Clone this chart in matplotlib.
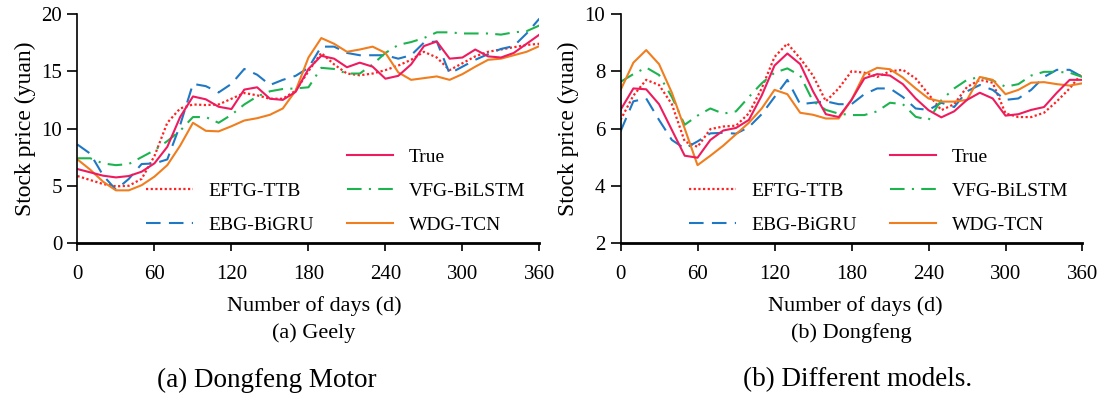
import numpy as np
import matplotlib
matplotlib.use('Agg')
import matplotlib.pyplot as plt
from matplotlib.lines import Line2D

plt.rcParams['font.family'] = ['Liberation Serif', 'DejaVu Serif']

# sampling days (every 10 days)
days = list(range(0, 361, 10))

# (a) Geely
geely_true = [6.46, 6.17, 5.88, 5.73, 5.85, 6.23, 6.96, 8.4, 11.0, 12.8, 12.55, 11.9, 11.7, 13.4, 13.6,
              12.6, 12.5, 13.2, 15.2, 16.35, 16.1, 15.35, 15.75, 15.4, 14.35, 14.6, 15.6, 17.2, 17.6,
              16.1, 16.2, 16.9, 16.3, 16.2, 16.6, 17.4, 18.2]
geely_eftg = [5.85, 5.5, 5.15, 4.95, 5.0, 5.6, 7.6, 10.5, 11.75, 12.1, 12.05, 12.1, 12.6, 13.1, 12.9,
              12.6, 12.6, 13.3, 15.0, 16.6, 15.6, 14.8, 14.65, 14.8, 15.1, 15.5, 16.0, 16.7, 16.2,
              15.1, 15.7, 16.3, 16.7, 16.9, 17.1, 17.3, 17.4]
geely_vfg = [7.4, 7.4, 6.95, 6.8, 6.9, 7.5, 8.1, 8.9, 9.8, 11.0, 11.0, 10.5, 11.2, 12.1, 12.8,
             13.25, 13.45, 13.5, 13.6, 15.3, 15.2, 14.8, 14.8, 15.6, 16.6, 17.3, 17.55, 17.9, 18.4,
             18.4, 18.3, 18.3, 18.3, 18.2, 18.4, 18.5, 19.0]
geely_ebg = [8.6, 7.8, 5.9, 4.65, 5.6, 6.9, 6.95, 7.3, 10.3, 13.9, 13.7, 13.15, 13.9, 15.2, 14.7,
             13.8, 14.25, 14.6, 15.3, 17.15, 17.15, 16.6, 16.4, 16.4, 16.4, 16.1, 16.4, 17.5, 17.6,
             14.8, 15.4, 16.0, 16.5, 16.95, 17.2, 18.3, 19.6]
geely_wdg = [7.3, 6.4, 5.35, 4.6, 4.6, 5.05, 5.8, 6.8, 8.5, 10.5, 9.8, 9.75, 10.2, 10.7, 10.9,
             11.2, 11.75, 13.3, 16.2, 17.9, 17.4, 16.7, 16.9, 17.15, 16.6, 14.9, 14.25, 14.4, 14.55,
             14.25, 14.75, 15.4, 16.0, 16.1, 16.4, 16.7, 17.2]

# (b) Dongfeng
dongfeng_true = [6.65, 7.4, 7.37, 6.85, 5.95, 5.05, 4.98, 5.6, 5.93, 6.02, 6.3, 7.15, 8.2, 8.62, 8.25,
                 7.3, 6.5, 6.4, 7.0, 7.75, 7.9, 7.85, 7.55, 7.05, 6.64, 6.39, 6.6, 7.0, 7.25,
                 7.05, 6.45, 6.5, 6.65, 6.75, 7.25, 7.7, 7.7]
dongfeng_eftg = [6.3, 7.15, 7.7, 7.52, 6.85, 5.55, 5.36, 5.98, 6.07, 6.1, 6.53, 7.4, 8.5, 8.97, 8.45,
                 7.85, 6.95, 7.4, 8.0, 7.95, 7.8, 8.0, 8.05, 7.75, 7.2, 6.64, 6.85, 7.45, 7.7,
                 7.6, 6.53, 6.4, 6.4, 6.55, 6.95, 7.4, 7.95]
dongfeng_vfg = [7.63, 7.9, 8.13, 7.87, 7.1, 6.13, 6.45, 6.7, 6.52, 6.6, 7.1, 7.58, 7.95, 8.1, 7.85,
                6.95, 6.65, 6.52, 6.47, 6.47, 6.6, 6.9, 6.85, 6.41, 6.3, 6.99, 7.4, 7.7, 7.8,
                7.68, 7.46, 7.55, 7.85, 7.98, 7.98, 7.95, 7.8]
dongfeng_ebg = [5.9, 6.95, 7.05, 6.3, 5.6, 5.3, 5.55, 5.83, 5.85, 5.82, 6.05, 6.5, 7.1, 7.7, 6.85,
                6.9, 6.95, 6.85, 6.85, 7.2, 7.4, 7.4, 7.1, 6.7, 6.65, 6.9, 6.75, 7.3, 7.52,
                7.35, 7.0, 7.05, 7.35, 7.8, 8.05, 8.05, 7.8]
dongfeng_wdg = [7.34, 8.3, 8.74, 8.25, 7.25, 6.0, 4.72, 5.05, 5.4, 5.8, 6.2, 6.7, 7.35, 7.2, 6.55,
                6.48, 6.35, 6.35, 7.0, 7.9, 8.12, 8.07, 7.78, 7.4, 7.05, 6.94, 6.94, 7.0, 7.8,
                7.7, 7.2, 7.35, 7.6, 7.62, 7.55, 7.5, 7.58]

labels = ['True', 'EFTG-TTB', 'VFG-BiLSTM', 'EBG-BiGRU', 'WDG-TCN']
xticks = [0, 60, 120, 180, 240, 300, 360]

# styles
st_true = dict(color='#EE1B5E', lw=1.5, ls='-')
st_eftg = dict(color='#FF2222', lw=1.6, ls=(0, (1.0, 1.1)))
st_vfg = dict(color='#1DB450', lw=1.5, ls=(0, (7, 3.5, 1, 3.5)))
st_ebg = dict(color='#1F78C4', lw=1.5, ls=(0, (7, 4)))
st_wdg = dict(color='#F07D1E', lw=1.5, ls='-')


def draw_panel(ax, series, ylim, yticks):
    t, e, v, b, w = series
    h_e, = ax.plot(days, e, **st_eftg)
    h_b, = ax.plot(days, b, **st_ebg)
    h_v, = ax.plot(days, v, **st_vfg)
    h_w, = ax.plot(days, w, **st_wdg)
    h_t, = ax.plot(days, t, **st_true)
    ax.set_xlim(0, 360)
    ax.set_ylim(*ylim)
    ax.set_xticks(xticks)
    ax.set_yticks(yticks)
    ax.spines['top'].set_visible(False)
    ax.spines['right'].set_visible(False)
    ax.spines['bottom'].set_linewidth(2.0)
    ax.spines['left'].set_linewidth(1.2)
    ax.tick_params(axis='x', direction='out', length=5.5, width=1.2, pad=10, labelsize=15)
    ax.tick_params(axis='y', direction='out', length=7, width=1.2, pad=4, labelsize=15)
    ax.set_ylabel('Stock price (yuan)', fontsize=17, labelpad=4)
    blank = Line2D([], [], linestyle='none')
    ax.legend([blank, h_e, h_b, h_t, h_v, h_w],
              [' ', 'EFTG-TTB', 'EBG-BiGRU', 'True', 'VFG-BiLSTM', 'WDG-TCN'],
              ncol=2, loc='upper left', bbox_to_anchor=(0.148, 0.415),
              frameon=False, fontsize=14, handlelength=2.4, handletextpad=0.8,
              columnspacing=1.7, labelspacing=0.86, borderpad=0, borderaxespad=0)


fig = plt.figure(figsize=(11.02, 3.98), dpi=100)
ax1 = fig.add_axes([0.0703, 0.3894, 0.4192, 0.5754])
ax2 = fig.add_axes([0.5631, 0.3894, 0.4192, 0.5754])

draw_panel(ax1, [geely_true, geely_eftg, geely_vfg, geely_ebg, geely_wdg], (0, 20), [0, 5, 10, 15, 20])
draw_panel(ax2, [dongfeng_true, dongfeng_eftg, dongfeng_vfg, dongfeng_ebg, dongfeng_wdg], (2, 10), [2, 4, 6, 8, 10])

# x labels and captions
fig.text(314 / 1102, 1 - 306 / 398, 'Number of days (d)', ha='center', va='center', fontsize=16)
fig.text(855 / 1102, 1 - 306 / 398, 'Number of days (d)', ha='center', va='center', fontsize=16)
fig.text(314 / 1102, 1 - 333 / 398, '(a) Geely', ha='center', va='center', fontsize=16)
fig.text(851 / 1102, 1 - 333 / 398, '(b) Dongfeng', ha='center', va='center', fontsize=16)
fig.text(267 / 1102, 1 - 380 / 398, '(a) Dongfeng Motor', ha='center', va='center', fontsize=19.5)
fig.text(858 / 1102, 1 - 380 / 398, '(b) Different models.', ha='center', va='center', fontsize=19.5)

fig.savefig('out.png', dpi=100)
